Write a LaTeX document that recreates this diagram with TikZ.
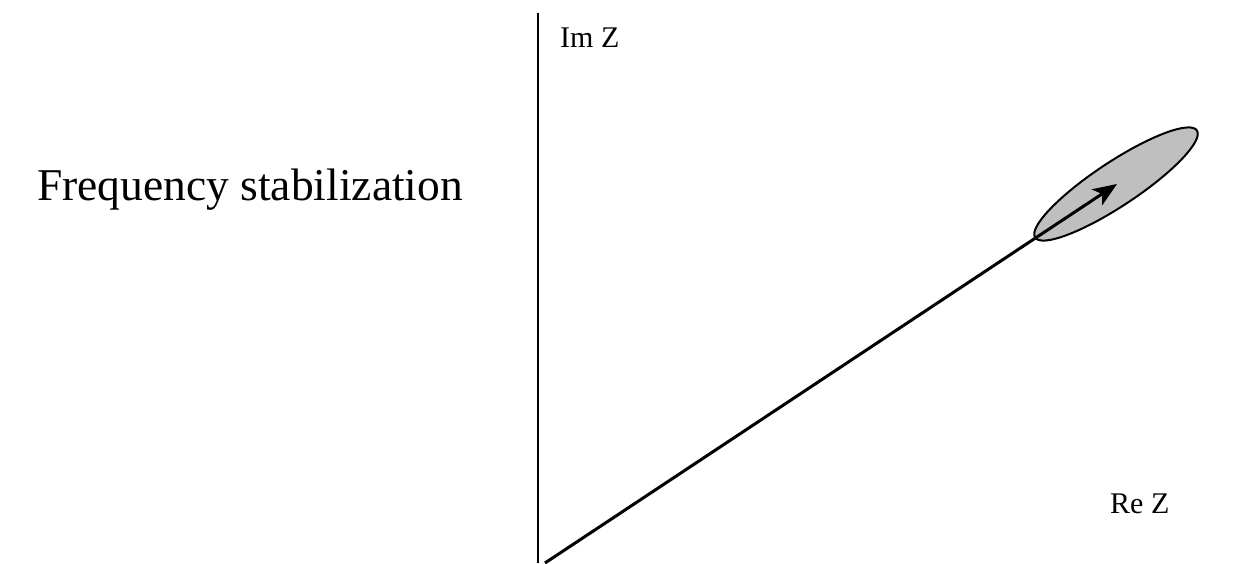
\documentclass[tikz,border=0pt]{standalone}
\usepackage{fontspec}
\setmainfont{Liberation Serif}
\usetikzlibrary{arrows.meta}
\begin{document}
\begin{tikzpicture}[x=1pt,y=-1pt,
  axis/.style={line width=1.8pt},
  vec/.style={line width=3pt},
  lbl/.style={anchor=base west,inner sep=0pt,font=\fontsize{30}{32}\selectfont},
  title/.style={anchor=base west,inner sep=0pt,font=\fontsize{45.5}{50}\selectfont}]
\useasboundingbox (0,0) rectangle (1236,563);
\coordinate (ytop) at (538,13);
\coordinate (ybot) at (538,563);
\coordinate (o) at (545,563);
\coordinate (p) at (1037,237);
\coordinate (tip) at (1117,184);
\draw[axis] (ytop) -- (ybot);
\draw[fill=black!25,line width=2pt,rotate around={33.5:(1116,184)}] (1116,184) ellipse [x radius=97, y radius=22];
\draw[vec] (o) -- (p);
\draw[vec,-{Stealth[length=24pt,width=19pt,inset=6pt]}] (p) -- (tip);
\node[title] (t) at (37,200) {Frequency stabilization};
\node[lbl] (im) at (560,47) {Im Z};
\node[lbl] (re) at (1110,513) {Re Z};
\end{tikzpicture}
\end{document}
